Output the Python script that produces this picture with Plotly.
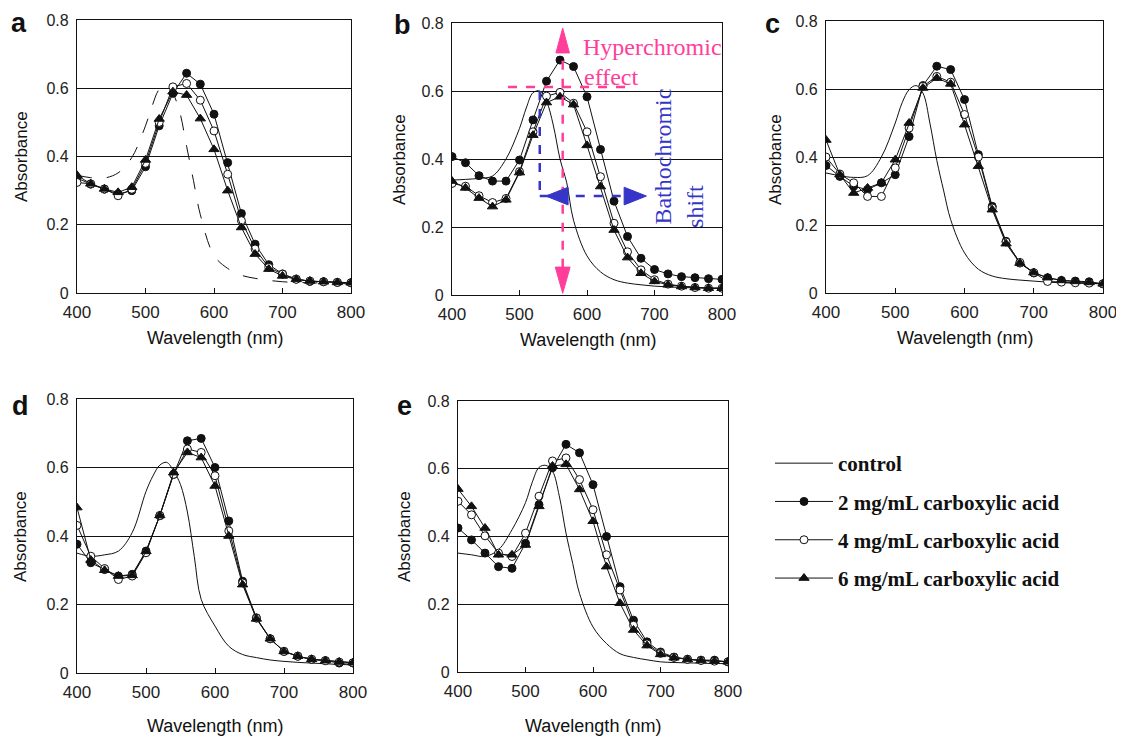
import plotly.graph_objects as go

W, H = 1124, 737

# ---------------- data ----------------
wavelength = [400, 420, 440, 460, 480, 500, 520, 540, 560, 580, 600,
              620, 640, 660, 680, 700, 720, 740, 760, 780, 800]
ctrl_wavelength = [400, 420, 440, 460, 480, 500, 510, 520, 530, 540, 550, 560,
                   570, 580, 600, 620, 640, 660, 680, 700, 720, 740, 760, 780, 800]

series_names = ["control", "2 mg/mL carboxylic acid",
                "4 mg/mL carboxylic acid", "6 mg/mL carboxylic acid"]
panel_labels = ["a", "b", "c", "d", "e"]
y_tick_vals = [0, 0.2, 0.4, 0.6, 0.8]
y_tick_text = ["0", "0.2", "0.4", "0.6", "0.8"]
x_tick_vals = [400, 500, 600, 700, 800]
x_tick_text = ["400", "500", "600", "700", "800"]

# panel a
a_control = [0.345, 0.338, 0.337, 0.352, 0.397, 0.49, 0.55, 0.597, 0.61, 0.585, 0.53, 0.43,
             0.33, 0.23, 0.11, 0.072, 0.052, 0.043, 0.037, 0.033, 0.031, 0.03, 0.029, 0.028, 0.027]
a_2mg = [0.337, 0.319, 0.304, 0.29, 0.30, 0.37, 0.49, 0.585, 0.644, 0.612, 0.524,
         0.382, 0.233, 0.143, 0.083, 0.056, 0.041, 0.034, 0.033, 0.031, 0.03]
a_4mg = [0.324, 0.32, 0.305, 0.285, 0.304, 0.38, 0.50, 0.604, 0.614, 0.565, 0.475,
         0.348, 0.212, 0.129, 0.075, 0.055, 0.04, 0.035, 0.033, 0.031, 0.03]
a_6mg = [0.345, 0.32, 0.305, 0.295, 0.31, 0.39, 0.51, 0.59, 0.58, 0.511, 0.421,
         0.30, 0.192, 0.114, 0.07, 0.05, 0.04, 0.035, 0.033, 0.031, 0.03]

# panel b
b_control = [0.338, 0.34, 0.343, 0.35, 0.40, 0.49, 0.55, 0.595, 0.60, 0.57, 0.50, 0.40,
             0.33, 0.22, 0.115, 0.068, 0.045, 0.035, 0.03, 0.026, 0.024, 0.022, 0.021, 0.02, 0.02]
b_2mg = [0.407, 0.389, 0.351, 0.335, 0.335, 0.397, 0.515, 0.629, 0.691, 0.672, 0.583,
         0.428, 0.276, 0.172, 0.108, 0.075, 0.062, 0.054, 0.051, 0.048, 0.046]
b_4mg = [0.328, 0.32, 0.292, 0.272, 0.284, 0.363, 0.48, 0.585, 0.596, 0.564, 0.48,
         0.348, 0.211, 0.127, 0.074, 0.045, 0.032, 0.026, 0.022, 0.02, 0.02]
b_6mg = [0.335, 0.315, 0.285, 0.26, 0.28, 0.36, 0.47, 0.566, 0.583, 0.56, 0.44,
         0.319, 0.191, 0.11, 0.064, 0.04, 0.03, 0.025, 0.022, 0.02, 0.02]

# panel c
c_control = [0.353, 0.345, 0.34, 0.345, 0.40, 0.50, 0.56, 0.598, 0.61, 0.588, 0.50, 0.39,
             0.30, 0.216, 0.118, 0.07, 0.05, 0.042, 0.038, 0.035, 0.032, 0.03, 0.029, 0.028, 0.027]
c_2mg = [0.375, 0.343, 0.314, 0.304, 0.324, 0.348, 0.46, 0.61, 0.667, 0.657, 0.569,
         0.407, 0.255, 0.152, 0.088, 0.059, 0.045, 0.037, 0.035, 0.033, 0.027]
c_4mg = [0.40, 0.35, 0.324, 0.284, 0.284, 0.368, 0.485, 0.608, 0.637, 0.62, 0.525,
         0.40, 0.25, 0.15, 0.09, 0.06, 0.034, 0.032, 0.03, 0.029, 0.027]
c_6mg = [0.45, 0.348, 0.294, 0.309, 0.324, 0.392, 0.50, 0.603, 0.632, 0.615, 0.495,
         0.373, 0.245, 0.145, 0.088, 0.06, 0.045, 0.037, 0.034, 0.031, 0.027]

# panel d
d_control = [0.35, 0.341, 0.345, 0.356, 0.41, 0.53, 0.575, 0.607, 0.615, 0.59, 0.55, 0.47,
             0.34, 0.215, 0.137, 0.078, 0.054, 0.045, 0.038, 0.034, 0.031, 0.029, 0.027, 0.025, 0.024]
d_2mg = [0.376, 0.322, 0.302, 0.283, 0.288, 0.356, 0.459, 0.58, 0.678, 0.685, 0.60,
         0.444, 0.268, 0.161, 0.10, 0.063, 0.049, 0.04, 0.036, 0.029, 0.029]
d_4mg = [0.431, 0.341, 0.305, 0.273, 0.283, 0.351, 0.46, 0.58, 0.654, 0.644, 0.576,
         0.415, 0.263, 0.16, 0.10, 0.063, 0.049, 0.04, 0.036, 0.032, 0.03]
d_6mg = [0.483, 0.33, 0.30, 0.283, 0.285, 0.355, 0.46, 0.585, 0.644, 0.629, 0.546,
         0.40, 0.258, 0.158, 0.10, 0.063, 0.049, 0.04, 0.036, 0.032, 0.03]

# panel e
e_control = [0.351, 0.346, 0.341, 0.361, 0.42, 0.50, 0.56, 0.604, 0.61, 0.593, 0.52, 0.41,
             0.32, 0.232, 0.133, 0.084, 0.054, 0.043, 0.036, 0.03, 0.028, 0.027, 0.026, 0.025, 0.025]
e_2mg = [0.425, 0.39, 0.351, 0.311, 0.306, 0.38, 0.494, 0.603, 0.672, 0.647, 0.553,
         0.40, 0.252, 0.153, 0.089, 0.059, 0.044, 0.038, 0.035, 0.035, 0.03]
e_4mg = [0.504, 0.464, 0.402, 0.351, 0.341, 0.41, 0.519, 0.623, 0.632, 0.568, 0.479,
         0.346, 0.242, 0.138, 0.083, 0.055, 0.043, 0.037, 0.034, 0.032, 0.03]
e_6mg = [0.54, 0.489, 0.425, 0.346, 0.346, 0.375, 0.489, 0.608, 0.613, 0.539, 0.445,
         0.311, 0.203, 0.124, 0.078, 0.052, 0.042, 0.037, 0.034, 0.032, 0.03]

panels = [
    (a_control, a_2mg, a_4mg, a_6mg),
    (b_control, b_2mg, b_4mg, b_6mg),
    (c_control, c_2mg, c_4mg, c_6mg),
    (d_control, d_2mg, d_4mg, d_6mg),
    (e_control, e_2mg, e_4mg, e_6mg),
]

# ---------------- layout helpers ----------------
# the page body adds an 8px margin; positions below are screen pixels
OFF = 8


def px(x):
    return (x - OFF) / W


def py(y):
    return 1 - (y - OFF) / H


# plot-area boxes in screen pixels: (left, right, top(0.8), bottom(0))
boxes = [
    (77, 351, 20, 293),
    (452, 722, 23, 295),
    (826, 1103, 21, 293),
    (77, 353, 399, 673),
    (458, 728, 401, 672),
]

SANS = "Liberation Sans, Arial"
SERIF = "Liberation Serif, Times New Roman"
BLACK = "#111"

fig = go.Figure()

for i, (ctrl, s2, s4, s6) in enumerate(panels):
    xa = "x" if i == 0 else f"x{i+1}"
    ya = "y" if i == 0 else f"y{i+1}"
    show = (i == 1)
    fig.add_trace(go.Scatter(
        x=ctrl_wavelength, y=ctrl, mode="lines", name=series_names[0],
        line=dict(color=BLACK, width=1, shape="spline", dash="longdash" if i == 0 else "solid"),
        xaxis=xa, yaxis=ya, showlegend=show, legendgroup="g0"))
    fig.add_trace(go.Scatter(
        x=wavelength, y=s2, mode="lines+markers", name=series_names[1],
        line=dict(color=BLACK, width=1),
        marker=dict(symbol="circle", size=8, color=BLACK, line=dict(color=BLACK, width=1)),
        xaxis=xa, yaxis=ya, showlegend=show, legendgroup="g1"))
    fig.add_trace(go.Scatter(
        x=wavelength, y=s4, mode="lines+markers", name=series_names[2],
        line=dict(color=BLACK, width=1),
        marker=dict(symbol="circle", size=8, color="white", line=dict(color=BLACK, width=1)),
        xaxis=xa, yaxis=ya, showlegend=show, legendgroup="g2"))
    fig.add_trace(go.Scatter(
        x=wavelength, y=s6, mode="lines+markers", name=series_names[3],
        line=dict(color=BLACK, width=1),
        marker=dict(symbol="triangle-up", size=9, color=BLACK, line=dict(color=BLACK, width=1)),
        xaxis=xa, yaxis=ya, showlegend=show, legendgroup="g3"))

layout = dict(
    width=W, height=H, autosize=False,
    margin=dict(l=0, r=0, t=0, b=0, pad=0, autoexpand=False),
    paper_bgcolor="white", plot_bgcolor="white",
    showlegend=True,
    legend=dict(
        x=px(770), y=py(443), xanchor="left", yanchor="top",
        traceorder="grouped", tracegroupgap=8, itemwidth=58,
        font=dict(family=SERIF, size=21, color=BLACK, weight="bold"),
        bgcolor="rgba(0,0,0,0)", borderwidth=0,
    ),
)

for i, (l, r, t, b) in enumerate(boxes):
    xk = "xaxis" if i == 0 else f"xaxis{i+1}"
    yk = "yaxis" if i == 0 else f"yaxis{i+1}"
    xa_anchor = "y" if i == 0 else f"y{i+1}"
    ya_anchor = "x" if i == 0 else f"x{i+1}"
    layout[xk] = dict(
        domain=[px(l), px(r)], anchor=xa_anchor, range=[400, 800],
        tickvals=x_tick_vals, ticktext=x_tick_text, ticks="inside", ticklen=5,
        tickcolor=BLACK, tickwidth=1, showgrid=False, zeroline=False,
        showline=True, mirror=True, linecolor=BLACK, linewidth=1.2,
        tickfont=dict(family=SANS, size=17, color="#222"), ticklabelstandoff=3,
        fixedrange=True, automargin=False,
    )
    layout[yk] = dict(
        domain=[py(b), py(t)], anchor=ya_anchor, range=[0, 0.8],
        tickvals=y_tick_vals, ticktext=y_tick_text, ticks="",
        showgrid=True, gridcolor=BLACK, gridwidth=1, zeroline=False,
        showline=True, mirror=True, linecolor=BLACK, linewidth=1.2,
        tickfont=dict(family=SANS, size=16, color="#222"), ticklabelstandoff=4,
        fixedrange=True, automargin=False,
    )

fig.update_layout(**layout)

annotations = []
# panel letters
letter_pos = [(19, 23), (402, 25), (772, 24), (20, 406), (404, 406)]
for lab, (x, y) in zip(panel_labels, letter_pos):
    annotations.append(dict(
        x=px(x), y=py(y), xref="paper", yref="paper", text=f"<b>{lab}</b>",
        showarrow=False, font=dict(family=SANS, size=27, color=BLACK),
        xanchor="center", yanchor="middle"))

# axis titles
ytitle_pos = [(22, 157), (400, 160), (776, 160), (20, 537), (404, 537)]
xtitle_pos = [(215, 338), (588, 340), (965, 338), (215, 726), (593, 726)]
for (x, y) in ytitle_pos:
    annotations.append(dict(
        x=px(x), y=py(y), xref="paper", yref="paper", text="Absorbance", textangle=-90,
        showarrow=False, font=dict(family=SANS, size=17, color=BLACK),
        xanchor="center", yanchor="middle"))
for (x, y) in xtitle_pos:
    annotations.append(dict(
        x=px(x), y=py(y), xref="paper", yref="paper", text="Wavelength (nm)",
        showarrow=False, font=dict(family=SANS, size=18, color=BLACK),
        xanchor="center", yanchor="middle"))

PINK = "#FF3E9A"
BLUE = "#3535C8"

# panel b text annotations
annotations += [
    dict(x=591, y=0.729, xref="x2", yref="y2", text="Hyperchromic", showarrow=False,
         xanchor="left", yanchor="middle", font=dict(family=SERIF, size=24, color=PINK)),
    dict(x=592, y=0.641, xref="x2", yref="y2", text="effect", showarrow=False,
         xanchor="left", yanchor="middle", font=dict(family=SERIF, size=24, color=PINK)),
    dict(x=712, y=0.406, xref="x2", yref="y2", text="Bathochromic", showarrow=False,
         textangle=-90, xanchor="center", yanchor="middle", font=dict(family=SERIF, size=24, color=BLUE)),
    dict(x=760, y=0.259, xref="x2", yref="y2", text="shift", showarrow=False,
         textangle=-90, xanchor="center", yanchor="middle", font=dict(family=SERIF, size=24, color=BLUE)),
]
fig.update_layout(annotations=annotations)

shapes = [
    # pink hyperchromic dashed lines
    dict(type="line", xref="x2", yref="y2", x0=564, x1=564, y0=0.08, y1=0.715,
         line=dict(color=PINK, width=2.5, dash="dash")),
    dict(type="line", xref="x2", yref="y2", x0=483, x1=664, y0=0.612, y1=0.612,
         line=dict(color=PINK, width=2.5, dash="dash")),
    dict(type="path", xref="x2", yref="y2", path="M 564 0.785 L 554 0.712 L 574 0.712 Z",
         fillcolor=PINK, line=dict(color=PINK, width=1)),
    dict(type="path", xref="x2", yref="y2", path="M 564 0.005 L 553 0.082 L 575 0.082 Z",
         fillcolor=PINK, line=dict(color=PINK, width=1)),
    # blue bathochromic dashed lines
    dict(type="line", xref="x2", yref="y2", x0=530, x1=530, y0=0.6, y1=0.291,
         line=dict(color=BLUE, width=2.5, dash="dash")),
    dict(type="line", xref="x2", yref="y2", x0=530, x1=656, y0=0.291, y1=0.291,
         line=dict(color=BLUE, width=2.5, dash="dash")),
    dict(type="path", xref="x2", yref="y2", path="M 539 0.291 L 572 0.265 L 572 0.317 Z",
         fillcolor=BLUE, line=dict(color=BLUE, width=1)),
    dict(type="path", xref="x2", yref="y2", path="M 688 0.291 L 655 0.265 L 655 0.317 Z",
         fillcolor=BLUE, line=dict(color=BLUE, width=1)),
]
fig.update_layout(shapes=shapes)

fig.write_html("out.html")
